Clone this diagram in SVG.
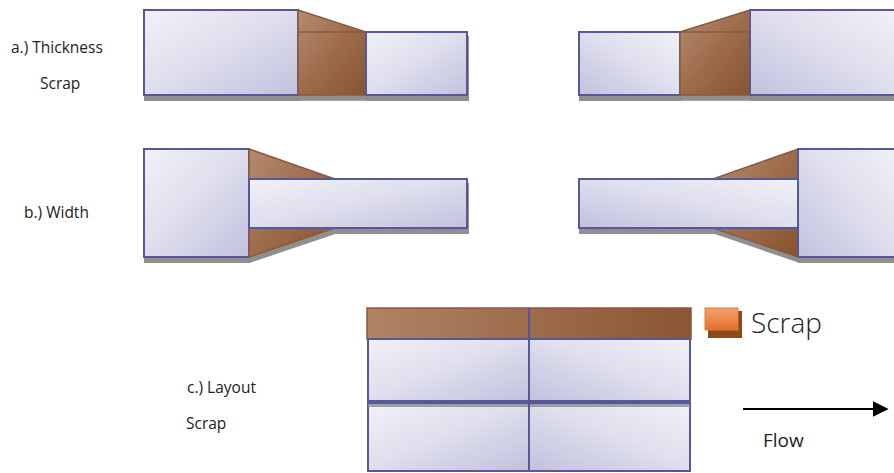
<svg xmlns="http://www.w3.org/2000/svg" width="894" height="473" viewBox="0 0 894 473">
  <defs>
    <linearGradient id="steel" x1="0" y1="0" x2="1" y2="1">
      <stop offset="0" stop-color="#f1f1f8"/>
      <stop offset="0.45" stop-color="#e0e0ee"/>
      <stop offset="1" stop-color="#c1c1de"/>
    </linearGradient>
    <linearGradient id="steelR" x1="1" y1="0" x2="0" y2="1">
      <stop offset="0" stop-color="#f1f1f8"/>
      <stop offset="0.45" stop-color="#e0e0ee"/>
      <stop offset="1" stop-color="#c1c1de"/>
    </linearGradient>
    <linearGradient id="rust" x1="0" y1="0" x2="1" y2="1">
      <stop offset="0" stop-color="#b68b72"/>
      <stop offset="0.5" stop-color="#9e6c4c"/>
      <stop offset="1" stop-color="#87532f"/>
    </linearGradient>
    <linearGradient id="rustH" x1="0" y1="0" x2="1" y2="0">
      <stop offset="0" stop-color="#b08266"/>
      <stop offset="1" stop-color="#8a5634"/>
    </linearGradient>
    <linearGradient id="orange" x1="0" y1="0" x2="0" y2="1">
      <stop offset="0" stop-color="#f3a070"/>
      <stop offset="0.5" stop-color="#ee8a4c"/>
      <stop offset="1" stop-color="#e0702e"/>
    </linearGradient>
    <filter id="shadow" x="-5%" y="-5%" width="115%" height="125%">
      <feDropShadow dx="1" dy="5" stdDeviation="0.6" flood-color="#7a7a7a" flood-opacity="0.85"/>
    </filter>
    <marker id="arrow" viewBox="0 0 10 10" refX="9" refY="5" markerWidth="8" markerHeight="8" orient="auto" markerUnits="strokeWidth">
      <path d="M0,0 L10,5 L0,10 z" fill="#000"/>
    </marker>
  </defs>
  <style>
    .block { fill: url(#steel); stroke: #585898; stroke-width: 2; }
    .blockR { fill: url(#steelR); stroke: #585898; stroke-width: 2; }
    .scrap { fill: url(#rust); stroke: #8a5a3a; stroke-width: 1.5; }
    .label { font-family: "Open Sans", "Liberation Sans", sans-serif; font-size: 15.5px; fill: #222; }
  </style>

  <!-- a.) thickness reduction, left-to-right -->
  <g id="thickness-left" filter="url(#shadow)">
    <rect class="block" x="144" y="10" width="154" height="85"/>
    <polygon class="scrap" points="298,10 366,32 366,95 298,95"/>
    <line x1="298" y1="32" x2="366" y2="32" stroke="#8a5a3a" stroke-width="1.5"/>
    <rect class="block" x="366" y="32" width="101" height="63"/>
  </g>

  <!-- a.) thickness reduction, right-to-left -->
  <g id="thickness-right" filter="url(#shadow)">
    <rect class="blockR" x="579" y="32" width="101" height="63"/>
    <polygon class="scrap" points="680,32 750,10 750,95 680,95"/>
    <line x1="680" y1="32" x2="750" y2="32" stroke="#8a5a3a" stroke-width="1.5"/>
    <rect class="blockR" x="750" y="10" width="150" height="85"/>
  </g>

  <!-- b.) width reduction, left-to-right -->
  <g id="width-left" filter="url(#shadow)">
    <rect class="block" x="144" y="149" width="105" height="108"/>
    <polygon class="scrap" points="249,149 335,179 335,228 249,257"/>
    <rect class="block" x="249" y="179" width="218" height="49"/>
  </g>

  <!-- b.) width reduction, right-to-left -->
  <g id="width-right" filter="url(#shadow)">
    <polygon class="scrap" points="713,179 798,149 798,257 713,228"/>
    <rect class="blockR" x="579" y="179" width="220" height="49"/>
    <rect class="blockR" x="798" y="149" width="102" height="108"/>
  </g>

  <!-- c.) layout scrap grid -->
  <g id="layout-grid">
    <rect x="367" y="308" width="324" height="31" fill="url(#rustH)" stroke="#8a5a3a" stroke-width="1.5"/>
    <rect class="block" x="368" y="339" width="161" height="62"/>
    <rect class="blockR" x="529" y="339" width="161" height="62"/>
    <rect class="block" x="368" y="403" width="161" height="68"/>
    <rect class="blockR" x="529" y="403" width="161" height="68"/>
    <rect x="368" y="404" width="322" height="3" fill="#8a8a98" opacity="0.8"/>
    <line x1="529" y1="308" x2="529" y2="471" stroke="#585898" stroke-width="2"/>
  </g>

  <!-- legend -->
  <g id="legend">
    <rect x="708" y="311" width="34" height="27" fill="#8c4a1c"/>
    <rect x="705" y="308" width="33" height="22" fill="url(#orange)" stroke="#e07a3a" stroke-width="1"/>
    <text x="751" y="333" font-family="Open Sans, Liberation Sans, sans-serif" font-size="28" font-weight="300" fill="#222">Scrap</text>
  </g>

  <!-- flow direction -->
  <g id="connectors">
    <line x1="743" y1="409" x2="887" y2="409" stroke="#000" stroke-width="2" marker-end="url(#arrow)"/>
  </g>
  <text x="763" y="447" font-family="Open Sans, Liberation Sans, sans-serif" font-size="19" fill="#222">Flow</text>

  <!-- labels -->
  <text class="label" x="11" y="53">a.) Thickness</text>
  <text class="label" x="40" y="89">Scrap</text>
  <text class="label" x="24" y="218">b.) Width</text>
  <text class="label" x="187" y="393">c.) Layout</text>
  <text class="label" x="186" y="429">Scrap</text>
</svg>
